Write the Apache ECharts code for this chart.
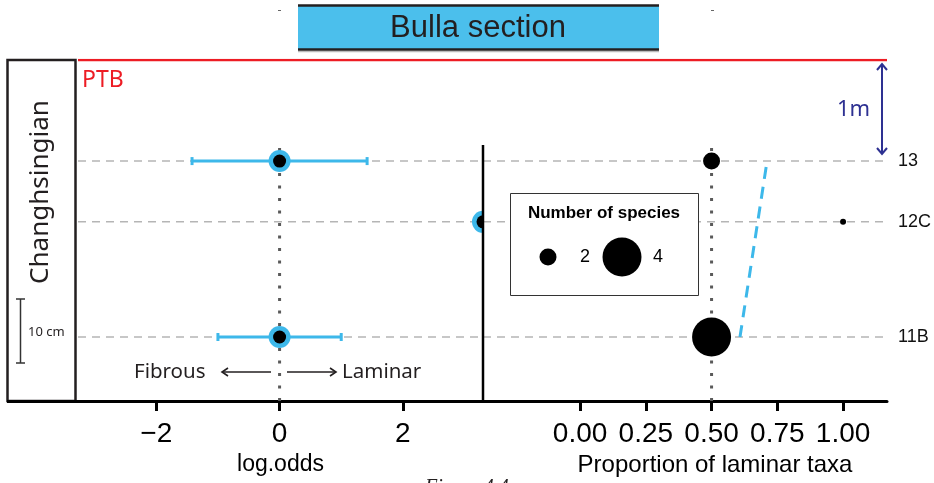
<!DOCTYPE html>
<html><head><meta charset="utf-8">
<script src="https://cdn.jsdelivr.net/npm/echarts@6/dist/echarts.min.js"></script>
<style>html,body{margin:0;padding:0;background:#fff}#c{width:934px;height:483px}</style>
</head><body><div id="c"></div>
<script>
// ---- data ----
const rowLabels = ['13', '12C', '11B'];
const rowHeights = [37.5, 28, 10];          // height above base (cm)
const ptbHeight = 53.3;                     // Permian-Triassic boundary
const dottedTop = 39.7;                     // top of reference (dotted) lines
const logOdds = [0, 3.3, 0];
const ciLow = [-1.42, null, -1.0];
const ciHigh = [1.42, null, 1.0];
const propLaminar = [0.5, 1.0, 0.5];
const nSpecies = [2, 1, 4];
const trendProp = [0.608, 0.711];
const trendHeights = [10, 37.5];
const logOddsTicks = [-2, 0, 2];
const propTicks = [0, 0.25, 0.5, 0.75, 1];
const legendSpecies = [2, 4];
const logOddsRange = [-3.27, 3.3];
const propRange = [-0.369, 1.167];

// ---- styles ----
const BLUE = '#3DB8EA';
const RED = '#ED1C24';
const NAVY = '#2E3192';
const INK = '#231F20';
const sizeOf = n => 11 * n - 5;
const FONT = 'Liberation Sans';

const chart = echarts.init(document.getElementById('c'), null, {renderer: 'canvas'});

const errData = [];
rowHeights.forEach((h, i) => { if (ciLow[i] != null) errData.push([ciLow[i], ciHigh[i], h]); });
const ptData = rowHeights.map((h, i) => [logOdds[i], h]);
const propData = rowHeights.map((h, i) => [propLaminar[i], h, nSpecies[i]]);
const trendData = trendProp.map((p, i) => [p, trendHeights[i]]);

function hLines(axisIdx, range) {
  const out = rowHeights.map(h => ({
    type: 'line', xAxisIndex: axisIdx, yAxisIndex: axisIdx, symbol: 'none', silent: true, z: 1,
    data: [[range[0], h], [range[1], h]], lineStyle: {color: '#B5B5B5', width: 1.5, type: [8, 6]}
  }));
  out.push({type: 'line', xAxisIndex: axisIdx, yAxisIndex: axisIdx, symbol: 'none', silent: true, z: 1,
    data: [[range[0], ptbHeight], [range[1], ptbHeight]], lineStyle: {color: RED, width: 2.5}});
  return out;
}

const xAxisCommon = {
  type: 'value',
  axisLine: {show: true, onZero: false, lineStyle: {color: '#000', width: 3}},
  axisTick: {show: true, length: 10, lineStyle: {color: '#000', width: 3}},
  splitLine: {show: false},
  nameLocation: 'middle', nameGap: 50
};

const option = {
  animation: false,
  textStyle: {fontFamily: FONT},
  grid: [
    {left: 78, right: 451, top: 60, bottom: 82, outerBoundsMode: 'none', containLabel: false},
    {left: 483, right: 47, top: 60, bottom: 82, outerBoundsMode: 'none', containLabel: false}
  ],
  xAxis: [
    Object.assign({}, xAxisCommon, {
      gridIndex: 0, min: logOddsRange[0], max: logOddsRange[1], name: 'log.odds',
      nameTextStyle: {fontSize: 23, color: '#000', fontFamily: FONT},
      axisTick: Object.assign({}, xAxisCommon.axisTick, {customValues: logOddsTicks}),
      axisLabel: {customValues: logOddsTicks, fontSize: 28, color: '#000', margin: 19,
        formatter: v => String(v).replace('-', '\u2212')}
    }),
    Object.assign({}, xAxisCommon, {
      gridIndex: 1, min: propRange[0], max: propRange[1], name: 'Proportion of laminar taxa',
      nameTextStyle: {fontSize: 24, color: '#000', fontFamily: FONT, padding: [0, 0, 0, 60]},
      axisTick: Object.assign({}, xAxisCommon.axisTick, {customValues: propTicks}),
      axisLabel: {customValues: propTicks, fontSize: 28, color: '#000', margin: 19,
        formatter: v => v.toFixed(2)}
    })
  ],
  yAxis: [
    {type: 'value', gridIndex: 0, min: 0, max: ptbHeight, show: false},
    {type: 'value', gridIndex: 1, min: 0, max: ptbHeight, position: 'right',
      axisLine: {show: false}, axisTick: {show: false}, splitLine: {show: false},
      axisLabel: {customValues: rowHeights, margin: 11, fontSize: 18, color: '#111',
        formatter: v => { const i = rowHeights.indexOf(v); return i >= 0 ? rowLabels[i] : ''; }}}
  ],
  series: [].concat(hLines(0, logOddsRange), hLines(1, propRange), [
    // left panel
    {type: 'line', xAxisIndex: 0, yAxisIndex: 0, data: [[0, 0], [0, dottedTop]], symbol: 'none', silent: true,
      lineStyle: {color: '#5A5A5A', width: 3, type: [3, 9.5]}, z: 2},
    {type: 'custom', xAxisIndex: 0, yAxisIndex: 0, data: errData, z: 3,
      encode: {x: [0, 1], y: 2},
      renderItem: (params, api) => {
        const y = api.value(2);
        const a = api.coord([api.value(0), y]), b = api.coord([api.value(1), y]);
        const st = {stroke: BLUE, lineWidth: 3};
        return {type: 'group', children: [
          {type: 'line', shape: {x1: a[0], y1: a[1], x2: b[0], y2: b[1]}, style: st},
          {type: 'line', shape: {x1: a[0], y1: a[1] - 4, x2: a[0], y2: a[1] + 4}, style: st},
          {type: 'line', shape: {x1: b[0], y1: b[1] - 4, x2: b[0], y2: b[1] + 4}, style: st}
        ]};
      }},
    {type: 'custom', xAxisIndex: 0, yAxisIndex: 0, data: ptData, clip: true, z: 4,
      encode: {x: 0, y: 1},
      renderItem: (params, api) => {
        const p = api.coord([api.value(0), api.value(1)]);
        return {type: 'group', children: [
          {type: 'circle', shape: {cx: p[0], cy: p[1], r: 11}, style: {fill: BLUE}},
          {type: 'circle', shape: {cx: p[0], cy: p[1], r: 6.5}, style: {fill: '#000'}}
        ]};
      }},
    // right panel
    {type: 'line', xAxisIndex: 1, yAxisIndex: 1, data: [[0.5, 0], [0.5, dottedTop]], symbol: 'none', silent: true,
      lineStyle: {color: '#5A5A5A', width: 3, type: [3, 9.5]}, z: 2},
    {type: 'line', xAxisIndex: 1, yAxisIndex: 1, data: trendData, symbol: 'none', silent: true,
      lineStyle: {color: BLUE, width: 3, type: [12, 8]}, z: 3},
    {type: 'scatter', xAxisIndex: 1, yAxisIndex: 1, data: propData, z: 4,
      symbolSize: v => sizeOf(v[2]), itemStyle: {color: '#000', opacity: 1}}
  ]),
  graphic: [
    // title
    {type: 'rect', shape: {x: 298, y: 5, width: 361, height: 45}, style: {fill: '#4BBFEC'}},
    {type: 'line', shape: {x1: 298, y1: 51.5, x2: 659, y2: 51.5}, style: {stroke: '#BBBBBB', lineWidth: 1.5}},
    {type: 'line', shape: {x1: 298, y1: 5.5, x2: 659, y2: 5.5}, style: {stroke: INK, lineWidth: 2.5}},
    {type: 'line', shape: {x1: 298, y1: 49.5, x2: 659, y2: 49.5}, style: {stroke: INK, lineWidth: 2.5}},
    {type: 'text', x: 478, y: 28, style: {text: 'Bulla section', font: '31px "Liberation Sans"', fill: INK, align: 'center', verticalAlign: 'middle'}},
    {type: 'line', shape: {x1: 278, y1: 10.5, x2: 281, y2: 10.5}, style: {stroke: '#666', lineWidth: 1}},
    {type: 'line', shape: {x1: 711, y1: 10.5, x2: 714, y2: 10.5}, style: {stroke: '#666', lineWidth: 1}},
    // stage box
    {type: 'rect', shape: {x: 7.5, y: 60, width: 68, height: 341}, style: {fill: 'none', stroke: INK, lineWidth: 2.5}},
    {type: 'line', shape: {x1: 7, y1: 401.5, x2: 78, y2: 401.5}, style: {stroke: '#000', lineWidth: 3}},
    {type: 'text', x: 41, y: 192, rotation: Math.PI / 2, style: {text: 'Changhsingian', font: '26px "Noto Sans"', fill: INK, align: 'center', verticalAlign: 'middle'}},
    // 10 cm scale
    {type: 'line', shape: {x1: 20.5, y1: 299, x2: 20.5, y2: 363}, style: {stroke: '#333', lineWidth: 1.5}},
    {type: 'line', shape: {x1: 16, y1: 299, x2: 25, y2: 299}, style: {stroke: '#333', lineWidth: 1.5}},
    {type: 'line', shape: {x1: 16, y1: 363, x2: 25, y2: 363}, style: {stroke: '#333', lineWidth: 1.5}},
    {type: 'text', x: 28, y: 332, style: {text: '10 cm', font: '13px "Noto Sans"', fill: INK, align: 'left', verticalAlign: 'middle'}},
    // PTB
    {type: 'text', x: 82, y: 80, style: {text: 'PTB', font: '23px "Noto Sans"', fill: RED, align: 'left', verticalAlign: 'middle'}},
    // 1 m arrow
    {type: 'line', shape: {x1: 882, y1: 64, x2: 882, y2: 154}, style: {stroke: NAVY, lineWidth: 2}},
    {type: 'polyline', shape: {points: [[877, 70], [882, 64], [887, 70]]}, style: {stroke: NAVY, lineWidth: 2, fill: 'none'}},
    {type: 'polyline', shape: {points: [[877, 148], [882, 154], [887, 148]]}, style: {stroke: NAVY, lineWidth: 2, fill: 'none'}},
    {type: 'text', x: 837, y: 110, style: {text: '1m', font: '22px "Noto Sans"', fill: NAVY, align: 'left', verticalAlign: 'middle'}},
    // divider
    {type: 'line', shape: {x1: 483, y1: 145, x2: 483, y2: 401}, style: {stroke: '#000', lineWidth: 2.5}, z: 10},
    // Fibrous / Laminar
    {type: 'text', x: 134, y: 372, style: {text: 'Fibrous', font: '20.5px "Noto Sans"', fill: INK, align: 'left', verticalAlign: 'middle'}},
    {type: 'text', x: 342, y: 372, style: {text: 'Laminar', font: '20.5px "Noto Sans"', fill: INK, align: 'left', verticalAlign: 'middle'}},
    {type: 'line', shape: {x1: 222, y1: 372, x2: 271, y2: 372}, style: {stroke: INK, lineWidth: 1.6}},
    {type: 'polyline', shape: {points: [[228, 368], [222, 372], [228, 376]]}, style: {stroke: INK, lineWidth: 1.6, fill: 'none'}},
    {type: 'line', shape: {x1: 287, y1: 372, x2: 336, y2: 372}, style: {stroke: INK, lineWidth: 1.6}},
    {type: 'polyline', shape: {points: [[330, 368], [336, 372], [330, 376]]}, style: {stroke: INK, lineWidth: 1.6, fill: 'none'}},
    // legend
    {type: 'rect', shape: {x: 510.5, y: 193.5, width: 188, height: 102}, style: {fill: '#fff', stroke: '#333', lineWidth: 1}, z: 20},
    {type: 'text', x: 604, y: 213, z: 21, style: {text: 'Number of species', font: 'bold 17px "Liberation Sans"', fill: '#000', align: 'center', verticalAlign: 'middle'}},
    {type: 'circle', z: 21, shape: {cx: 548, cy: 257, r: sizeOf(legendSpecies[0]) / 2}, style: {fill: '#000'}},
    {type: 'text', x: 585, y: 257, z: 21, style: {text: String(legendSpecies[0]), font: '18px "Liberation Sans"', fill: '#000', align: 'center', verticalAlign: 'middle'}},
    {type: 'circle', z: 21, shape: {cx: 622, cy: 257, r: sizeOf(legendSpecies[1]) / 2}, style: {fill: '#000'}},
    {type: 'text', x: 658, y: 257, z: 21, style: {text: String(legendSpecies[1]), font: '18px "Liberation Sans"', fill: '#000', align: 'center', verticalAlign: 'middle'}},
    // caption (cut off)
    {type: 'text', x: 425, y: 478, style: {text: 'Figure 4.4', font: 'italic 20px "Liberation Serif"', fill: INK, align: 'left', verticalAlign: 'top'}}
  ]
};
chart.setOption(option);
</script>
</body></html>
